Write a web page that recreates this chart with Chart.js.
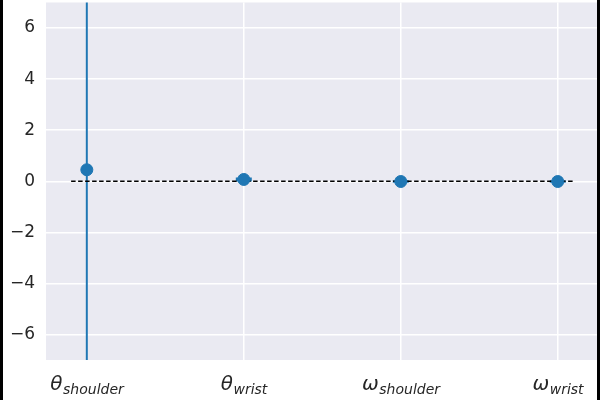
<!DOCTYPE html>
<html>
<head>
<meta charset="utf-8">
<script src="https://cdn.jsdelivr.net/npm/chart.js@4"></script>
<style>
  html, body { margin: 0; padding: 0; background: #fff; }
  #wrap { width: 600px; height: 400px; position: relative; }
</style>
</head>
<body>
<div id="wrap"><canvas id="chart" width="600" height="400"></canvas></div>
<script>
// data
const symbols = ["θ", "θ", "ω", "ω"];
const subscripts = ["shoulder", "wrist", "shoulder", "wrist"];
const means = [0.45, 0.07, -0.01, -0.01];
const errors = [12, 0.04, 0.01, 0.01];
const yTicks = [-6, -4, -2, 0, 2, 4, 6];
const refLine = [{ x: -0.1, y: 0 }, { x: 3.1, y: 0 }];

const BLUE = "#1f77b4";
const TEXT = "#262626";

// white background + dark strips on the sides like the original crop
const backdrop = {
  id: "backdrop",
  beforeDraw(chart) {
    const ctx = chart.ctx;
    ctx.save();
    ctx.fillStyle = "#fff";
    ctx.fillRect(0, 0, chart.width, chart.height);
    ctx.fillStyle = "#000";
    ctx.fillRect(0, 0, 3, chart.height);
    ctx.fillRect(chart.width - 3, 0, 3, chart.height);
    const a = chart.chartArea;
    ctx.fillStyle = "#eaeaf2";
    ctx.fillRect(a.left, a.top, a.right - a.left, a.bottom - a.top);
    ctx.restore();
  }
};

// vertical error bars with small caps
const errorBars = {
  id: "errorBars",
  beforeDatasetsDraw(chart) {
    const ctx = chart.ctx;
    const xs = chart.scales.x, ys = chart.scales.y;
    const a = chart.chartArea;
    ctx.save();
    ctx.beginPath();
    ctx.rect(a.left, a.top, a.right - a.left, a.bottom - a.top);
    ctx.clip();
    ctx.strokeStyle = BLUE;
    ctx.lineWidth = 2;
    means.forEach((m, i) => {
      const px = xs.getPixelForValue(i);
      const lo = ys.getPixelForValue(m - errors[i]);
      const hi = ys.getPixelForValue(m + errors[i]);
      ctx.beginPath();
      ctx.moveTo(px, lo);
      ctx.lineTo(px, hi);
      ctx.moveTo(px - 8, lo);
      ctx.lineTo(px + 8, lo);
      ctx.moveTo(px - 8, hi);
      ctx.lineTo(px + 8, hi);
      ctx.stroke();
    });
    ctx.restore();
  }
};

// category labels with italic subscripts
const mathLabels = {
  id: "mathLabels",
  afterDraw(chart) {
    const ctx = chart.ctx;
    const xs = chart.scales.x;
    ctx.save();
    ctx.fillStyle = TEXT;
    ctx.textBaseline = "alphabetic";
    ctx.textAlign = "left";
    symbols.forEach((s, i) => {
      const big = "italic 20px 'DejaVu Sans'";
      const small = "italic 14px 'DejaVu Sans'";
      ctx.font = big;
      const w1 = ctx.measureText(s).width;
      ctx.font = small;
      const w2 = ctx.measureText(subscripts[i]).width;
      const x0 = xs.getPixelForValue(i) - (w1 + w2) / 2;
      ctx.font = big;
      ctx.fillText(s, x0, 390);
      ctx.font = small;
      ctx.fillText(subscripts[i], x0 + w1 + 0.5, 394);
    });
    ctx.restore();
  }
};

new Chart(document.getElementById("chart"), {
  type: "scatter",
  data: {
    datasets: [
      {
        data: means.map((m, i) => ({ x: i, y: m })),
        backgroundColor: BLUE,
        borderColor: BLUE,
        pointRadius: 6,
        pointHoverRadius: 6,
        order: 1
      },
      {
        type: "line",
        data: refLine,
        borderColor: "#000",
        borderWidth: 1.5,
        borderDash: [4.5, 2.5],
        pointRadius: 0,
        fill: false,
        order: 2
      }
    ]
  },
  options: {
    responsive: false,
    animation: false,
    events: [],
    layout: { autoPadding: false, padding: { left: 0, right: 3, top: 2.5, bottom: 0 } },
    plugins: { legend: { display: false }, tooltip: { enabled: false } },
    scales: {
      x: {
        type: "linear",
        min: -0.26,
        max: 3.25,
        afterBuildTicks: (s) => { s.ticks = symbols.map((_, i) => ({ value: i })); },
        afterFit: (s) => { s.height = 40; s.paddingLeft = 0; s.paddingRight = 0; },
        ticks: { display: false },
        grid: { color: "#fff", lineWidth: 1.5, drawTicks: false },
        border: { display: false }
      },
      y: {
        min: -7,
        max: 7,
        afterBuildTicks: (s) => { s.ticks = yTicks.map((v) => ({ value: v })); },
        afterFit: (s) => { s.width = 46; s.paddingTop = 0; s.paddingBottom = 0; },
        ticks: {
          color: TEXT,
          padding: 11,
          font: { family: "'DejaVu Sans'", size: 17 },
          callback: (v) => (v < 0 ? "\u2212" + Math.abs(v) : String(v))
        },
        grid: { color: "#fff", lineWidth: 1.5, drawTicks: false },
        border: { display: false }
      }
    }
  },
  plugins: [backdrop, errorBars, mathLabels]
});
</script>
</body>
</html>
